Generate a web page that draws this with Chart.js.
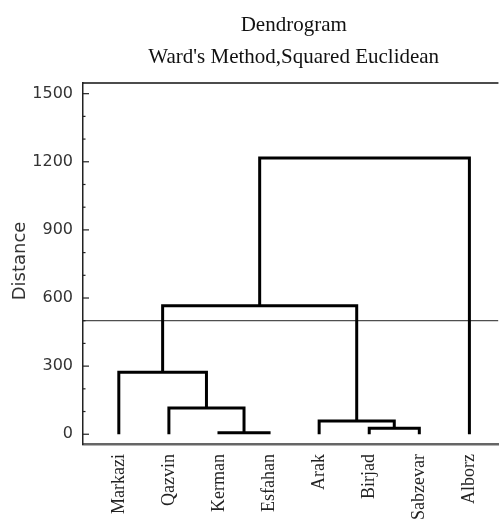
<!DOCTYPE html>
<html>
<head>
<meta charset="utf-8">
<script src="https://cdn.jsdelivr.net/npm/chart.js@4.4.1/dist/chart.umd.min.js"></script>
<style>
  html, body { margin: 0; padding: 0; background: #fff; }
  #wrap { width: 501px; height: 519px; }
</style>
</head>
<body>
<div id="wrap"><canvas id="dendro"></canvas></div>
<script>
// leaves in plot order, then the merges (index of joined nodes; leaves are 0..7, merges 8..)
const leaves = ["Markazi", "Qazvin", "Kerman", "Esfahan", "Arak", "Birjad", "Sabzevar", "Alborz"];
const mergeA = [2, 5, 4, 1, 0, 12, 13];
const mergeB = [3, 6, 9, 8, 11, 10, 7];
const mergeHeight = [7, 26, 58, 116, 273, 566, 1217];
const cutHeight = 500;
const yTicks = [0, 300, 600, 900, 1200, 1500];
const yMinorTicks = [100, 200, 400, 500, 700, 800, 1000, 1100, 1300, 1400];
const titleText = "Dendrogram";
const subtitleText = "Ward's Method,Squared Euclidean";
const yTitle = "Distance";

const xMin = 0.285, xMax = 8.58;

// build the U shaped links
const nodeX = leaves.map((_, i) => i + 1);
const nodeY = leaves.map(() => 0);
const links = [];
mergeHeight.forEach((h, k) => {
  const a = mergeA[k], b = mergeB[k];
  links.push([
    { x: nodeX[a], y: nodeY[a] },
    { x: nodeX[a], y: h },
    { x: nodeX[b], y: h },
    { x: nodeX[b], y: nodeY[b] },
  ]);
  nodeX.push((nodeX[a] + nodeX[b]) / 2);
  nodeY.push(h);
});

const datasets = links.map((pts) => ({
  data: pts,
  showLine: true,
  borderColor: "#000",
  borderWidth: 3,
  pointRadius: 0,
  borderJoinStyle: "miter",
  borderCapStyle: "butt",
}));
datasets.push({
  data: [{ x: xMin, y: cutHeight }, { x: xMax, y: cutHeight }],
  showLine: true,
  borderColor: "#222",
  borderWidth: 1,
  pointRadius: 0,
});

const frame = {
  id: "frame",
  afterDraw(chart) {
    const ctx = chart.ctx;
    const a = chart.chartArea;
    const y = chart.scales.y;
    ctx.save();
    // top border
    ctx.strokeStyle = "#111";
    ctx.lineWidth = 1.5;
    ctx.beginPath();
    ctx.moveTo(a.left, a.top);
    ctx.lineTo(a.right, a.top);
    ctx.stroke();
    // inward ticks on y axis
    ctx.lineWidth = 1.2;
    ctx.strokeStyle = "#222";
    yTicks.forEach((v) => {
      const py = y.getPixelForValue(v);
      ctx.beginPath();
      ctx.moveTo(a.left, py);
      ctx.lineTo(a.left + 6, py);
      ctx.stroke();
    });
    yMinorTicks.forEach((v) => {
      const py = y.getPixelForValue(v);
      ctx.beginPath();
      ctx.moveTo(a.left, py);
      ctx.lineTo(a.left + 2.5, py);
      ctx.stroke();
    });
    // titles
    const cx = (a.left + a.right) / 2 + 3;
    ctx.fillStyle = "#111";
    ctx.textAlign = "center";
    ctx.textBaseline = "alphabetic";
    ctx.font = "21px 'Liberation Serif'";
    ctx.fillText(titleText, cx, 31);
    ctx.fillText(subtitleText, cx, 63);
    // y axis title
    ctx.translate(20, 261);
    ctx.rotate(-Math.PI / 2);
    ctx.textBaseline = "middle";
    ctx.fillStyle = "#333";
    ctx.font = "18px 'DejaVu Sans'";
    ctx.fillText(yTitle, 0, 0);
    ctx.restore();
  },
};

new Chart(document.getElementById("dendro"), {
  type: "scatter",
  data: { datasets },
  options: {
    responsive: true,
    maintainAspectRatio: false,
    animation: false,
    layout: { padding: { top: 83, left: 0, right: 0, bottom: 0 } },
    plugins: { legend: { display: false }, tooltip: { enabled: false } },
    scales: {
      x: {
        type: "linear",
        min: xMin,
        max: xMax,
        afterFit: (s) => { s.height = 75; },
        afterBuildTicks: (s) => { s.ticks = leaves.map((_, i) => ({ value: i + 1 })); },
        grid: { display: false, drawTicks: false },
        border: { display: true, color: "#666", width: 2.5 },
        ticks: {
          autoSkip: false,
          minRotation: 90,
          maxRotation: 90,
          padding: 10,
          color: "#222",
          font: { family: "'Liberation Serif'", size: 18 },
          callback: (v) => leaves[v - 1],
        },
      },
      y: {
        type: "linear",
        min: -43,
        max: 1547,
        afterFit: (s) => { s.width = 83; },
        afterBuildTicks: (s) => { s.ticks = yTicks.map((v) => ({ value: v })); },
        grid: { display: false, drawTicks: false },
        border: { display: true, color: "#222", width: 1.5 },
        ticks: {
          padding: 10,
          color: "#333",
          font: { family: "'DejaVu Sans'", size: 16 },
          callback: (v) => String(v),
        },
      },
    },
  },
  plugins: [frame],
});
</script>
</body>
</html>
